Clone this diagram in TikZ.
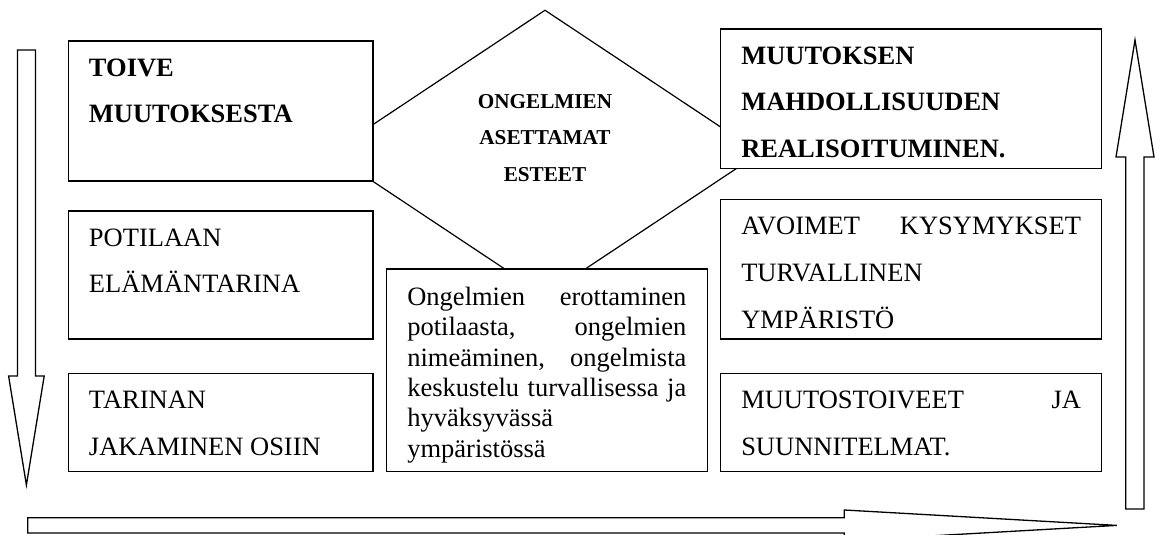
\documentclass[tikz,border=0pt]{standalone}
\usepackage{fontspec}
\setmainfont{Liberation Serif}
\usetikzlibrary{shapes.geometric}

\newcommand{\laatikkoteksti}[4][17.6pt]{%
  \begin{minipage}[c][#2][t]{#3}\rule{0pt}{#1}#4\end{minipage}}

\begin{document}
\begin{tikzpicture}[
      x=0.5pt, y=-0.5pt,
      laatikko/.style={
          draw, line width=0.65pt, fill=white,
          inner xsep=10.3pt, inner ysep=0pt, anchor=north west,
          font=\fontsize{13.25}{23.3}\selectfont
      },
      este/.style={
          draw, line width=0.6pt, shape=diamond, inner sep=0pt,
          minimum width=215pt, minimum height=143pt
      },
      nuoli/.style={
          draw, line width=0.65pt, fill=white, line join=miter
      }
  ]
      \useasboundingbox (0,0) rectangle (1156,535);

      % Esteet keskellä
      \node[este] (este) at (545,153) {};
      \node[font=\bfseries\fontsize{10.6}{18.35}\selectfont, align=center] (estetxt) at (545,137.9) {ONGELMIEN\\ASETTAMAT\\ESTEET};

      % Vasen sarake
      \node[laatikko] (toive) at (67.7,40.3) {\laatikkoteksti{70pt}{131.7pt}{{\bfseries TOIVE\\MUUTOKSESTA}}};
      \node[laatikko] (potilas) at (67.7,210.3) {\laatikkoteksti{64pt}{131.7pt}{POTILAAN\\ELÄMÄNTARINA}};
      \node[laatikko] (tarina) at (67.7,372.7) {\laatikkoteksti{49pt}{131.7pt}{TARINAN\\JAKAMINEN OSIIN}};

      % Keskimmäinen
      \node[laatikko, inner xsep=10.5pt, font=\fontsize{13.25}{15.15}\selectfont] (erottelu) at (385.7,268.3) {\laatikkoteksti[18.3pt]{101.2pt}{139.5pt}{%
          Ongelmien\hfill erottaminen\\
          potilaasta,\hfill ongelmien\\
          nimeäminen,\hfill ongelmista\\
          \makebox[\linewidth][s]{keskustelu turvallisessa ja}\\
          hyväksyvässä\\
          ympäristössä}};

      % Oikea sarake
      \node[laatikko] (muutos) at (720,28.3) {\laatikkoteksti{69.7pt}{169.9pt}{{\bfseries MUUTOKSEN\\MAHDOLLISUUDEN\\REALISOITUMINEN.}}};
      \node[laatikko] (avoimet) at (720,199) {\laatikkoteksti{69.65pt}{169.9pt}{AVOIMET\hfill KYSYMYKSET\\TURVALLINEN\\YMPÄRISTÖ}};
      \node[laatikko] (toiveet) at (720,372.7) {\laatikkoteksti{49pt}{169.9pt}{MUUTOSTOIVEET\hfill JA\\SUUNNITELMAT.}};

      % Nuolet
      \draw[nuoli] (17.4,50) -- (35.4,50) -- (35.4,376) -- (44.2,376) -- (26.4,485) -- (8.6,376) -- (17.4,376) -- cycle;
      \draw[nuoli] (27.7,517.8) -- (844.3,517.8) -- (844.3,510) -- (1116.7,525.4) -- (844.3,540.8) -- (844.3,533) -- (27.7,533) -- cycle;
      \draw[nuoli] (1125.8,509) -- (1144,509) -- (1144,157) -- (1154,157) -- (1135,40) -- (1116,157) -- (1125.8,157) -- cycle;
  \end{tikzpicture}
\end{document}
